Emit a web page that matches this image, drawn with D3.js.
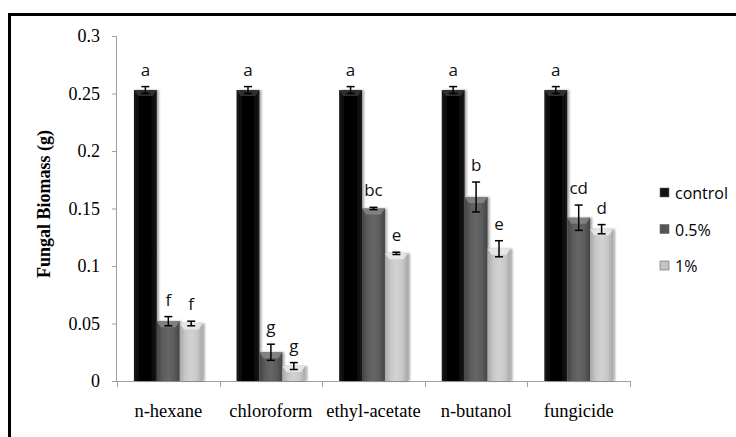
<!DOCTYPE html>
<html><head><meta charset="utf-8">
<script src="https://cdn.jsdelivr.net/npm/d3@7/dist/d3.min.js"></script>
<style>body{margin:0;background:#fff}svg{display:block}</style>
</head><body>
<svg id="c" width="736" height="437"></svg>
<script>
const categories = ["n-hexane","chloroform","ethyl-acetate","n-butanol","fungicide"];
const seriesNames = ["control","0.5%","1%"];
const controlVals = [0.253,0.253,0.253,0.253,0.253];
const halfVals = [0.052,0.025,0.150,0.160,0.142];
const oneVals = [0.050,0.013,0.111,0.115,0.132];
const controlErr = [0.003,0.003,0.003,0.003,0.003];
const halfErr = [0.004,0.007,0.001,0.013,0.011];
const oneErr = [0.002,0.003,0.001,0.007,0.004];
const controlLetters = ["a","a","a","a","a"];
const halfLetters = ["f","g","bc","b","cd"];
const oneLetters = ["f","g","e","e","d"];
const yTicks = [0,0.05,0.1,0.15,0.2,0.25,0.3];
const yTickLabels = ["0","0.05","0.1","0.15","0.2","0.25","0.3"];

(function(){
const values = [controlVals, halfVals, oneVals];
const errs = [controlErr, halfErr, oneErr];
const letters = [controlLetters, halfLetters, oneLetters];

const svg = d3.select("#c");
const defs = svg.append("defs");
const palettes = [
  {id:"g0", stops:["#1a1a1a","#050505","#000","#050505","#1a1a1a"], top:"#3a3a3a", legend:"#111"},
  {id:"g1", stops:["#444","#5c5c5c","#666","#5c5c5c","#444"], top:"#8a8a8a", legend:"#555"},
  {id:"g2", stops:["#a8a8a8","#c8c8c8","#d2d2d2","#c8c8c8","#a8a8a8"], top:"#eeeeee", legend:"#c4c4c4"}
];
palettes.forEach(p=>{
  const g = defs.append("linearGradient").attr("id",p.id).attr("x1","0").attr("x2","1").attr("y1","0").attr("y2","0");
  p.stops.forEach((c,i)=>g.append("stop").attr("offset",(i/(p.stops.length-1)*100)+"%").attr("stop-color",c));
});
const f = defs.append("filter").attr("id","sh").attr("x","-20%").attr("y","-5%").attr("width","150%").attr("height","110%");
f.append("feDropShadow").attr("dx",2).attr("dy",0).attr("stdDeviation",1.2).attr("flood-color","#000").attr("flood-opacity",0.35);

// outer frame
svg.append("rect").attr("x",9.5).attr("y",14.5).attr("width",740).attr("height",440)
  .attr("fill","none").attr("stroke","#000").attr("stroke-width",3);

const pLeft = 117, pRight = 630, pTop = 36, pBottom = 381;
const x0 = d3.scaleBand().domain(categories).range([pLeft,pRight]).paddingInner(0.33).paddingOuter(0.165);
const x1 = d3.scaleBand().domain(d3.range(3)).range([0,x0.bandwidth()]);
const y = d3.scaleLinear().domain([0,0.3]).range([pBottom,pTop]);

// axes
const yAxis = svg.append("g").attr("transform",`translate(${pLeft},0)`)
  .call(d3.axisLeft(y).tickValues(yTicks).tickFormat((d,i)=>yTickLabels[i]).tickSize(5).tickPadding(12));
yAxis.select(".domain").attr("stroke","#a0a0a0").attr("d",`M-0.5,${pTop}V${pBottom}`);
yAxis.selectAll(".tick line").attr("stroke","#a0a0a0");
yAxis.selectAll("text").attr("font-family","Liberation Serif").attr("font-size",18).attr("fill","#000");

const xb = d3.scaleLinear().domain([0,categories.length]).range([pLeft,pRight]);
const xAxisG = svg.append("g");
xAxisG.append("line").attr("x1",pLeft).attr("x2",pRight).attr("y1",pBottom+0.5).attr("y2",pBottom+0.5).attr("stroke","#a0a0a0");
xAxisG.selectAll("line.t").data(d3.range(categories.length+1)).join("line").attr("class","t")
  .attr("x1",d=>Math.round(xb(d))+0.5).attr("x2",d=>Math.round(xb(d))+0.5).attr("y1",pBottom).attr("y2",pBottom+6).attr("stroke","#a0a0a0");
xAxisG.selectAll("text").data(categories).join("text")
  .attr("x",d=>x0(d)+x0.bandwidth()/2).attr("y",417).attr("text-anchor","middle")
  .attr("font-family","Liberation Serif").attr("font-size",18.5).text(d=>d);

svg.append("text").attr("transform",`translate(50,204) rotate(-90)`)
  .attr("text-anchor","middle").attr("font-family","Liberation Serif").attr("font-weight","bold")
  .attr("font-size",18).text("Fungal Biomass (g)");

// bars
const bw = x1.bandwidth();
categories.forEach((cat,ci)=>{
  values.forEach((vals,si)=>{
    const bx = x0(cat)+x1(si);
    const by = y(vals[ci]);
    const h = pBottom - by;
    svg.append("rect").attr("x",bx).attr("y",by).attr("width",bw).attr("height",h)
      .attr("fill",`url(#${palettes[si].id})`).attr("filter","url(#sh)");
    const bev = Math.min(6,h);
    svg.append("path").attr("d",`M${bx},${by}H${bx+bw}L${bx+bw-4},${by+bev}H${bx+4}Z`)
      .attr("fill",palettes[si].top).attr("opacity",0.8);
    const e = errs[si][ci];
    const cx = bx+bw/2;
    const yt = y(vals[ci]+e), yb = y(vals[ci]-e);
    const eg = svg.append("g").attr("stroke","#000").attr("stroke-width",1.5);
    eg.append("line").attr("x1",cx).attr("x2",cx).attr("y1",yt).attr("y2",yb);
    eg.append("line").attr("x1",cx-4).attr("x2",cx+4).attr("y1",yt).attr("y2",yt);
    eg.append("line").attr("x1",cx-4).attr("x2",cx+4).attr("y1",yb).attr("y2",yb);
    svg.append("text").attr("x",cx).attr("y",yt-11).attr("text-anchor","middle")
      .attr("font-family","Open Sans").attr("font-size",17).attr("fill","#111").text(letters[si][ci]);
  });
});

// legend
const lg = svg.append("g");
seriesNames.forEach((s,i)=>{
  const ly = 193 + i*36.5;
  lg.append("rect").attr("x",660).attr("y",ly-5).attr("width",9).attr("height",9)
    .attr("fill",palettes[i].legend).attr("stroke","#666").attr("stroke-width",0.6);
  lg.append("text").attr("x",675).attr("y",ly+6).attr("font-family","Open Sans").attr("font-size",16).text(s);
});
})();
</script>
</body></html>
